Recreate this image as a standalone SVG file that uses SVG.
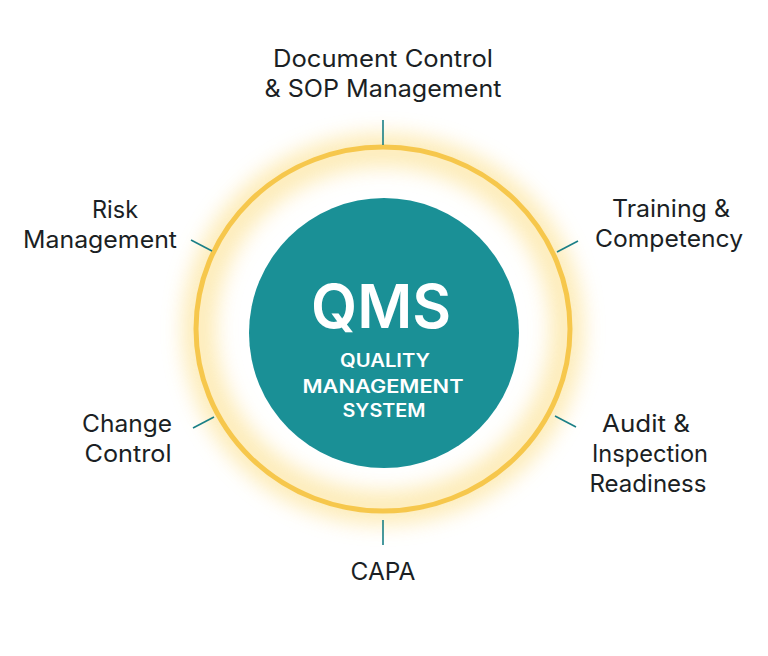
<svg xmlns="http://www.w3.org/2000/svg" width="768" height="656" viewBox="0 0 768 656">
  <defs>
    <filter id="glow" x="-30%" y="-30%" width="160%" height="160%">
      <feGaussianBlur stdDeviation="10"/>
    </filter>
    <style>
      .lbl { font-family: Inter, "Noto Sans", "DejaVu Sans", sans-serif; font-size: 24px; fill: #1b1f24; text-anchor: middle; }
      .conn { stroke: #1a7f86; stroke-width: 1.6; fill: none; }
      .ctr { font-family: Inter, "Noto Sans", "DejaVu Sans", sans-serif; fill: #ffffff; text-anchor: middle; }
    </style>
  </defs>
  <rect width="768" height="656" fill="#ffffff"/>

  <g id="hub">
    <ellipse cx="383" cy="329" rx="184" ry="179" fill="none" stroke="#fde9ae" stroke-width="34" filter="url(#glow)" opacity="0.85"/>
    <ellipse cx="383" cy="329" rx="187" ry="182" fill="none" stroke="#f6c74c" stroke-width="5"/>
    <circle cx="384" cy="333" r="135" fill="#1a9096"/>
    <text class="ctr" x="381" y="328" font-size="60" font-weight="600" textLength="140" lengthAdjust="spacingAndGlyphs">QMS</text>
    <text class="ctr" x="385" y="367" font-size="18" font-weight="600" textLength="90" lengthAdjust="spacingAndGlyphs">QUALITY</text>
    <text class="ctr" x="383" y="393" font-size="18" font-weight="600" textLength="161" lengthAdjust="spacingAndGlyphs">MANAGEMENT</text>
    <text class="ctr" x="384" y="417" font-size="18" font-weight="600" textLength="83" lengthAdjust="spacingAndGlyphs">SYSTEM</text>
  </g>

  <g id="connectors">
    <line class="conn" x1="383" y1="120" x2="383" y2="145"/>
    <line class="conn" x1="383" y1="520" x2="383" y2="545"/>
    <line class="conn" x1="191" y1="240" x2="212" y2="251"/>
    <line class="conn" x1="557" y1="252" x2="578" y2="241"/>
    <line class="conn" x1="193" y1="428" x2="214" y2="417"/>
    <line class="conn" x1="555" y1="416" x2="576" y2="427"/>
  </g>

  <g id="doc-control">
    <text class="lbl" x="383" y="67" textLength="220" lengthAdjust="spacingAndGlyphs">Document Control</text>
    <text class="lbl" x="383" y="97" textLength="237" lengthAdjust="spacingAndGlyphs">&amp; SOP Management</text>
  </g>
  <g id="training">
    <text class="lbl" x="671" y="217" textLength="118" lengthAdjust="spacingAndGlyphs">Training &amp;</text>
    <text class="lbl" x="669" y="247" textLength="148" lengthAdjust="spacingAndGlyphs">Competency</text>
  </g>
  <g id="audit">
    <text class="lbl" x="646" y="432" textLength="88" lengthAdjust="spacingAndGlyphs">Audit &amp;</text>
    <text class="lbl" x="650" y="462" textLength="116" lengthAdjust="spacingAndGlyphs">Inspection</text>
    <text class="lbl" x="648" y="492" textLength="117" lengthAdjust="spacingAndGlyphs">Readiness</text>
  </g>
  <g id="capa">
    <text class="lbl" x="383" y="580" textLength="65" lengthAdjust="spacingAndGlyphs">CAPA</text>
  </g>
  <g id="change-control">
    <text class="lbl" x="127" y="432" textLength="90" lengthAdjust="spacingAndGlyphs">Change</text>
    <text class="lbl" x="128" y="462" textLength="87" lengthAdjust="spacingAndGlyphs">Control</text>
  </g>
  <g id="risk">
    <text class="lbl" x="115" y="218" textLength="46" lengthAdjust="spacingAndGlyphs">Risk</text>
    <text class="lbl" x="100" y="248" textLength="154" lengthAdjust="spacingAndGlyphs">Management</text>
  </g>
</svg>
